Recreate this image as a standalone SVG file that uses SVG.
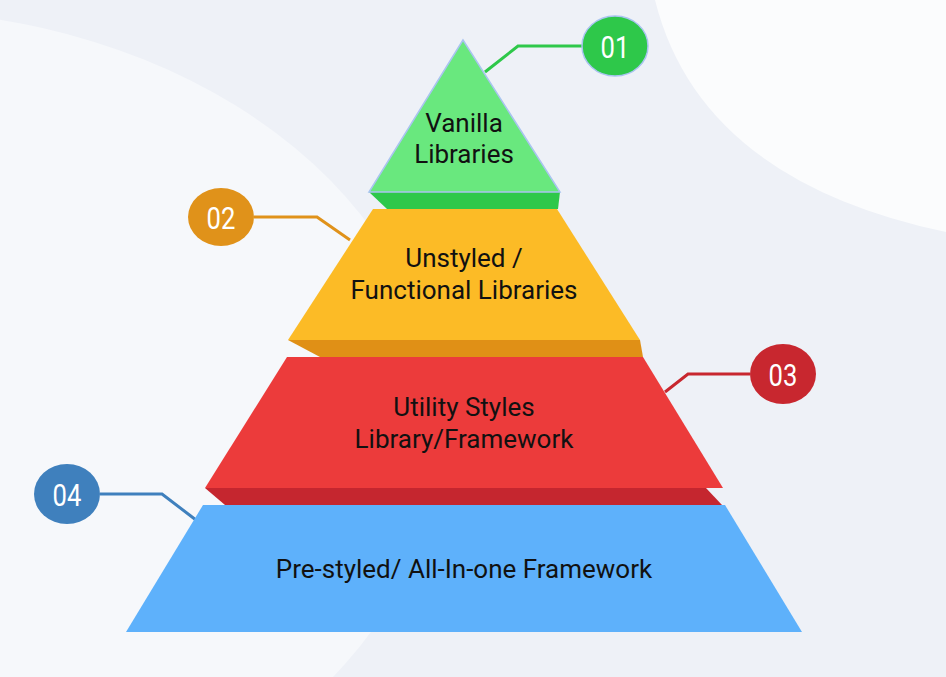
<svg xmlns="http://www.w3.org/2000/svg" width="946" height="677" viewBox="0 0 946 677">
<style>
.t{font-family:Roboto,"Liberation Sans",sans-serif;font-size:26px;fill:#111;text-anchor:middle}
.n{font-family:Roboto,"Liberation Sans",sans-serif;font-size:32px;fill:#fff;text-anchor:middle}
.c{fill:none;stroke-width:3}
</style>
<rect width="946" height="677" fill="#eef1f7"/>
<ellipse cx="-120" cy="430" rx="560" ry="420" fill="#f6f8fb"/>
<path d="M655 0 Q700 180 946 232 L946 0 Z" fill="#fbfcfd"/>
<g id="connectors">
<polyline class="c" stroke="#2ec84a" points="485,72 518,46 585,46"/>
<polyline class="c" stroke="#e0921a" points="254,217 317,217 350,240"/>
<polyline class="c" stroke="#c8272f" points="750,374 688,374 665,392"/>
<polyline class="c" stroke="#3f80bd" points="100,494 162,494 196,520"/>
</g>
<g id="layer1">
<polygon points="369,192 560,192 558,209 387,209" fill="#2ec84a"/>
<polygon points="463,40 369,192 560,192" fill="#69e87e" stroke="#a9c4f0" stroke-width="1.5"/>
<text class="t" x="464" y="132">Vanilla</text>
<text class="t" x="464" y="163">Libraries</text>
</g>
<g id="layer2">
<polygon points="288,340 640,340 643,357 320,357" fill="#e09016"/>
<polygon points="373,209 557,209 640,340 288,340" fill="#fcbb26"/>
<text class="t" x="464" y="267">Unstyled /</text>
<text class="t" x="464" y="299">Functional Libraries</text>
</g>
<g id="layer3">
<polygon points="205,488 706,488 722,505 225,505" fill="#c5262f"/>
<polygon points="287,357 643,357 723,488 205,488" fill="#ec3b3b"/>
<text class="t" x="464" y="416">Utility Styles</text>
<text class="t" x="464" y="448">Library/Framework</text>
</g>
<g id="layer4">
<polygon points="203,505 725,505 802,632 126,632" fill="#5eb1fb"/>
<text class="t" x="464" y="578">Pre-styled/ All-In-one Framework</text>
</g>
<g id="b01"><ellipse cx="615" cy="46" rx="33" ry="30" fill="#2ec84a" stroke="#a9c4f0" stroke-width="1.5"/><text class="n" x="615" y="58" transform="translate(615 0) scale(0.8 1) translate(-615 0)">01</text></g>
<g id="b02"><ellipse cx="221" cy="217" rx="33" ry="29" fill="#e0921a"/><text class="n" x="221" y="229" transform="translate(221 0) scale(0.8 1) translate(-221 0)">02</text></g>
<g id="b03"><ellipse cx="783" cy="374" rx="33" ry="30" fill="#c8272f"/><text class="n" x="783" y="386" transform="translate(783 0) scale(0.8 1) translate(-783 0)">03</text></g>
<g id="b04"><ellipse cx="67" cy="494" rx="33" ry="30" fill="#3f80bd"/><text class="n" x="67" y="506" transform="translate(67 0) scale(0.8 1) translate(-67 0)">04</text></g>
</svg>
